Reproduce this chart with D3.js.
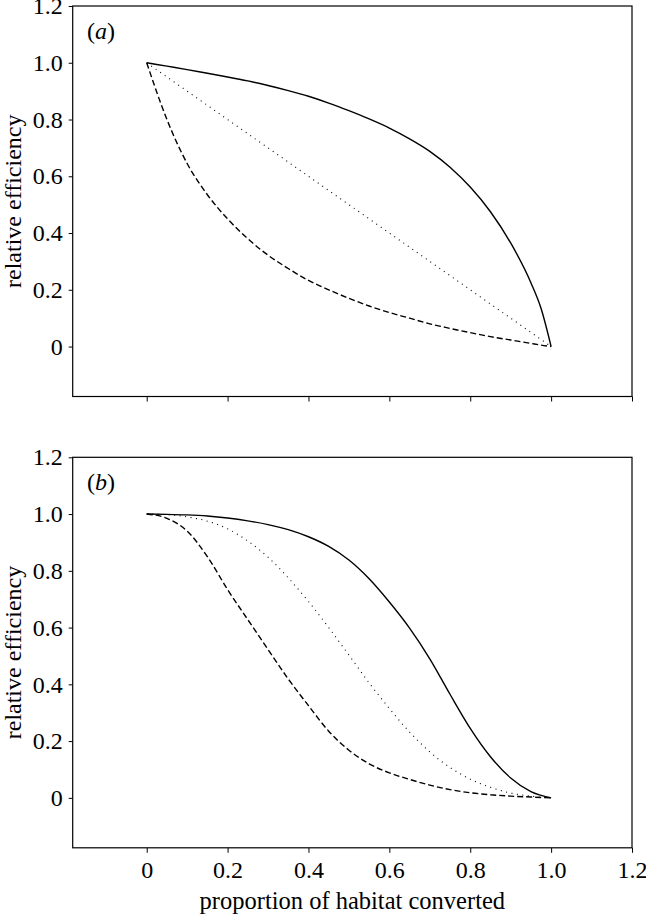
<!DOCTYPE html>
<html>
<head>
<meta charset="utf-8">
<script src="https://cdn.jsdelivr.net/npm/d3@7"></script>
<style>
  body { margin: 0; background: #fff; }
  svg text { font-family: "Liberation Serif", "DejaVu Serif", Times, serif; fill: #000; }
</style>
</head>
<body>
<svg id="chart"></svg>
<script>
// proportion of habitat converted (x) for each panel
const xsA = [0, 0.05, 0.1, 0.15, 0.2, 0.25, 0.3, 0.35, 0.4, 0.45, 0.5, 0.55, 0.6, 0.65, 0.7, 0.75, 0.8, 0.85, 0.9, 0.95, 0.975, 1.0];
const xsB = [0, 0.05, 0.1, 0.15, 0.2, 0.25, 0.3, 0.35, 0.4, 0.45, 0.5, 0.55, 0.6, 0.65, 0.7, 0.75, 0.8, 0.85, 0.9, 0.95, 1.0];

// panel (a) relative efficiency
const solidA  = [1.0, 0.988, 0.976, 0.963, 0.95, 0.936, 0.92, 0.902, 0.882, 0.858, 0.831, 0.802, 0.77, 0.732, 0.688, 0.632, 0.562, 0.475, 0.365, 0.225, 0.135, 0.0];
const dottedA = [1.0, 0.95, 0.90, 0.85, 0.80, 0.75, 0.70, 0.65, 0.60, 0.55, 0.50, 0.45, 0.40, 0.35, 0.30, 0.25, 0.20, 0.15, 0.10, 0.05, 0.025, 0.0];
const dashedA = [1.0, 0.80, 0.645, 0.535, 0.45, 0.38, 0.322, 0.275, 0.233, 0.2, 0.17, 0.143, 0.12, 0.1, 0.08, 0.064, 0.049, 0.035, 0.023, 0.011, 0.005, 0.0];

// panel (b) relative efficiency
const solidB  = [1.0, 0.999, 0.997, 0.993, 0.986, 0.976, 0.963, 0.945, 0.92, 0.886, 0.838, 0.772, 0.69, 0.598, 0.49, 0.365, 0.245, 0.145, 0.07, 0.022, 0.0];
const dottedB = [1.0, 0.998, 0.99, 0.975, 0.948, 0.905, 0.848, 0.775, 0.692, 0.60, 0.503, 0.405, 0.315, 0.232, 0.162, 0.107, 0.066, 0.037, 0.017, 0.006, 0.0];
const dashedB = [1.0, 0.985, 0.94, 0.85, 0.734, 0.628, 0.523, 0.419, 0.325, 0.235, 0.168, 0.12, 0.088, 0.065, 0.045, 0.029, 0.018, 0.011, 0.006, 0.003, 0.0];

const xTicks = [0, 0.2, 0.4, 0.6, 0.8, 1.0, 1.2];
const yTicks = [0, 0.2, 0.4, 0.6, 0.8, 1.0, 1.2];
const panelLabels = ["a", "b"];

const width = 646, height = 916;
const left = 72.7, right = 632;
const panelTops = [6, 457.3];
const panelH = 390.5;
const FONT = '"Liberation Serif", "DejaVu Serif", Times, serif';

const svg = d3.select("#chart").attr("width", width).attr("height", height);

const x = d3.scaleLinear().domain([-0.183, 1.2]).range([left, right]);
const fmt = d => (d === 0 ? "0" : d.toFixed(1));

const panels = [
  { xs: xsA, series: [solidA, dottedA, dashedA] },
  { xs: xsB, series: [solidB, dottedB, dashedB] }
];
const styles = [
  { dash: null, w: 1.4 },
  { dash: "1,4.5", w: 1.1 },
  { dash: "6,3", w: 1.4 }
];

panels.forEach((p, i) => {
  const top = panelTops[i];
  const y = d3.scaleLinear().domain([-0.176, 1.2]).range([top + panelH, top]);
  const g = svg.append("g");

  // frame
  g.append("rect")
    .attr("x", left).attr("y", top)
    .attr("width", right - left).attr("height", panelH)
    .attr("fill", "none").attr("stroke", "#000").attr("stroke-width", 1.2);

  // y axis
  const ya = g.append("g")
    .attr("transform", `translate(${left},0)`)
    .call(d3.axisLeft(y).tickValues(yTicks).tickSize(4).tickPadding(6).tickFormat(fmt));
  ya.attr("font-family", null).attr("font-size", null);
  ya.select(".domain").remove();
  ya.selectAll("line").attr("stroke", "#000");
  ya.selectAll("text").attr("font-size", 24).style("font-family", FONT);

  // x axis
  const xa = g.append("g")
    .attr("transform", `translate(0,${top + panelH})`)
    .call(d3.axisBottom(x).tickValues(xTicks).tickSize(5).tickPadding(8).tickFormat(i === 1 ? fmt : () => ""));
  xa.attr("font-family", null).attr("font-size", null);
  xa.select(".domain").remove();
  xa.selectAll("line").attr("stroke", "#000");
  xa.selectAll("text").attr("font-size", 24).style("font-family", FONT);

  // y title
  g.append("text")
    .attr("transform", `translate(21,${top + panelH / 2}) rotate(-90)`)
    .attr("text-anchor", "middle")
    .attr("font-size", 24)
    .style("font-family", FONT)
    .text("relative efficiency");

  // panel label
  const lab = g.append("text")
    .attr("x", 87).attr("y", top + 33)
    .attr("font-size", 24)
    .style("font-family", FONT);
  lab.append("tspan").text("(");
  lab.append("tspan").attr("font-style", "italic").text(panelLabels[i]);
  lab.append("tspan").text(")");

  // curves
  const line = d3.line()
    .x((d, k) => x(p.xs[k]))
    .y(d => y(d))
    .curve(d3.curveMonotoneX);

  p.series.forEach((s, k) => {
    g.append("path")
      .datum(s)
      .attr("d", line)
      .attr("fill", "none")
      .attr("stroke", "#000")
      .attr("stroke-width", styles[k].w)
      .attr("stroke-dasharray", styles[k].dash);
  });
});

// x title
svg.append("text")
  .attr("x", (left + right) / 2)
  .attr("y", 909)
  .attr("text-anchor", "middle")
  .attr("font-size", 24.5)
  .style("font-family", FONT)
  .text("proportion of habitat converted");
</script>
</body>
</html>
